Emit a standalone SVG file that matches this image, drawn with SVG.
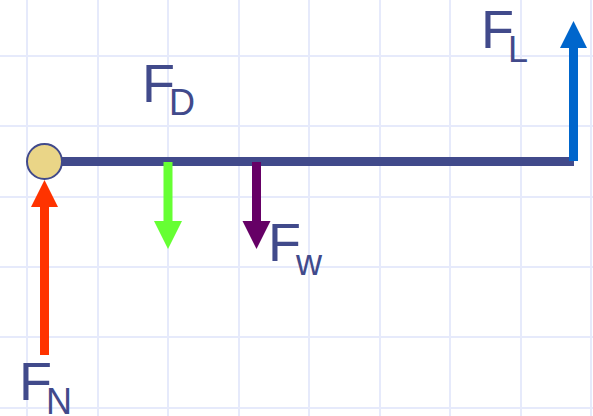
<svg xmlns="http://www.w3.org/2000/svg" width="593" height="416" viewBox="0 0 593 416">
<style>
.grid line{stroke:#e6eafb;stroke-width:2}
.lbl{font-family:"Liberation Sans",Arial,sans-serif;fill:#414a8b;font-size:54px}
.sub{font-size:36px}
</style>
<rect width="593" height="416" fill="#ffffff"/>
<g class="grid">
<line x1="27" y1="0" x2="27" y2="416"/>
<line x1="98" y1="0" x2="98" y2="416"/>
<line x1="168" y1="0" x2="168" y2="416"/>
<line x1="239" y1="0" x2="239" y2="416"/>
<line x1="309" y1="0" x2="309" y2="416"/>
<line x1="380" y1="0" x2="380" y2="416"/>
<line x1="450" y1="0" x2="450" y2="416"/>
<line x1="521" y1="0" x2="521" y2="416"/>
<line x1="591" y1="0" x2="591" y2="416"/>
<line x1="0" y1="56" x2="593" y2="56"/>
<line x1="0" y1="126" x2="593" y2="126"/>
<line x1="0" y1="197" x2="593" y2="197"/>
<line x1="0" y1="267" x2="593" y2="267"/>
<line x1="0" y1="337" x2="593" y2="337"/>
<line x1="0" y1="408" x2="593" y2="408"/>
</g>
<g id="connectors">
<line id="beam" x1="55" y1="161.5" x2="574" y2="161.5" stroke="#414a8b" stroke-width="9"/>
<g id="FL-arrow" fill="#0066cc">
<rect x="569" y="48" width="9" height="113"/>
<polygon points="573.5,21 560,48 587,48"/>
</g>
<g id="FN-arrow" fill="#ff3300">
<rect x="40" y="206" width="9" height="149"/>
<polygon points="44.5,180 31,207 58,207"/>
</g>
<g id="FD-arrow" fill="#66ff33">
<rect x="163.5" y="162" width="9" height="60"/>
<polygon points="168,249 154,221 182,221"/>
</g>
<g id="FW-arrow" fill="#660066">
<rect x="252" y="162" width="9" height="60"/>
<polygon points="256.5,249 242.5,221 270.5,221"/>
</g>
</g>
<g id="pivot">
<circle cx="44.5" cy="161.5" r="17.5" fill="#ead587" stroke="#414a8b" stroke-width="2"/>
</g>
<g id="label-FD"><text class="lbl" x="142" y="102">F<tspan class="sub" x="169" y="115">D</tspan></text></g>
<g id="label-FL"><text class="lbl" x="481" y="48">F<tspan class="sub" x="508" y="62">L</tspan></text></g>
<g id="label-FW"><text class="lbl" x="268" y="261">F<tspan class="sub" x="296" y="275">w</tspan></text></g>
<g id="label-FN"><text class="lbl" x="19" y="400">F<tspan class="sub" x="46" y="414">N</tspan></text></g>
</svg>
